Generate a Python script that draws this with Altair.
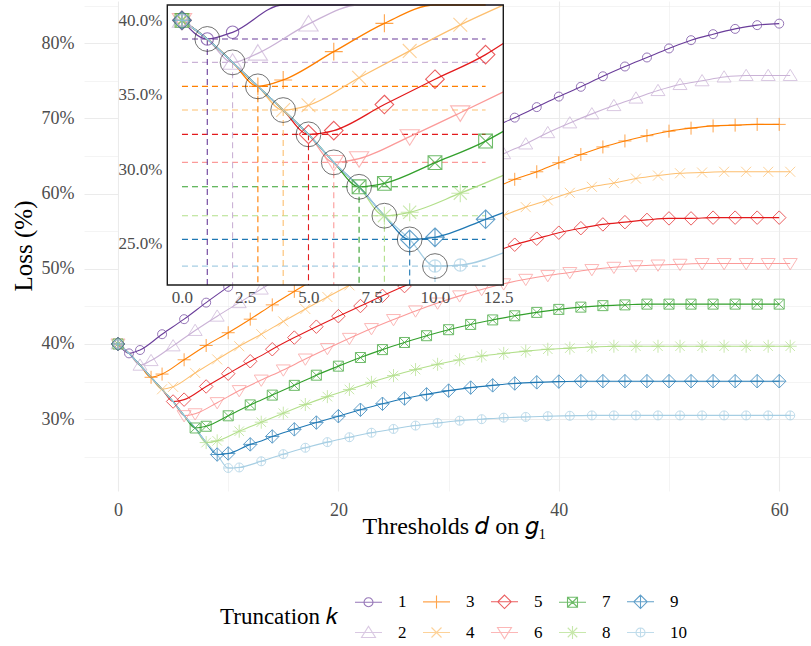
import altair as alt
import pandas as pd

# ---------------- data ----------------
SERIES = list(range(1, 11))
LEGEND_ORDER = [1, 3, 5, 7, 9, 2, 4, 6, 8, 10]
COLORS = ["#6A3D9A", "#CAB2D6", "#FF7F00", "#FDBF6F", "#E31A1C",
          "#FB9A99", "#33A02C", "#B2DF8A", "#1F78B4", "#A6CEE3"]
START_LOSS = 40.0
MIN_LOSS = [38.75, 37.18, 35.57, 33.98, 32.35, 30.47, 28.83, 26.89, 25.30, 23.51]

# loss after the minimum: x = k+1, k+3, ... (up to 60 / 61)
LOSS_AFTER = {
    1: [39.2, 41.3, 43.3, 45.5, 47.6, 49.65, 51.65, 53.6, 55.5, 57.35, 59.15, 60.9, 62.6, 64.25, 65.85,
        67.35, 68.8, 70.1, 71.5, 72.9, 74.2, 75.6, 76.9, 78.1, 79.3, 80.4, 81.2, 81.9, 82.4, 82.6],
    2: [37.79, 39.75, 41.8, 43.7, 45.5, 47.3, 49.1, 50.85, 52.6, 54.3, 55.95, 57.6, 59.2, 60.75, 62.3,
        63.8, 65.3, 66.6, 68.1, 69.4, 70.6, 71.7, 72.7, 73.7, 74.5, 75.0, 75.5, 75.7, 75.7, 75.7],
    3: [36.0, 37.9, 39.8, 41.5, 43.3, 45.2, 47.0, 48.75, 50.45, 52.05, 53.6, 55.1, 56.55, 57.95, 59.3,
        60.6, 61.9, 62.9, 64.1, 65.2, 66.2, 67.0, 67.7, 68.3, 68.7, 69.0, 69.1, 69.2, 69.2],
    4: [34.3, 36.15, 37.95, 39.7, 41.3, 43.0, 44.65, 46.25, 47.8, 49.3, 50.7, 52.1, 53.4, 54.7, 55.9,
        57.1, 58.2, 59.1, 60.1, 60.9, 61.4, 62.0, 62.4, 62.7, 62.8, 62.9, 62.9, 62.9, 62.9],
    5: [32.6, 34.35, 36.05, 37.7, 39.3, 40.85, 42.3, 43.7, 45.05, 46.4, 47.7, 48.9, 50.05, 51.15,
        52.2, 53.2, 54.0, 54.8, 55.4, 55.9, 56.2, 56.5, 56.7, 56.7, 56.8, 56.8, 56.8, 56.8],
    6: [30.72, 32.2, 33.8, 35.2, 36.55, 38.0, 39.4, 40.75, 42.05, 43.25, 44.4, 45.45, 46.4, 47.25,
        48.0, 48.6, 49.1, 49.5, 49.9, 50.2, 50.4, 50.5, 50.6, 50.7, 50.7, 50.7, 50.7, 50.7],
    7: [29.06, 30.45, 31.9, 33.2, 34.5, 35.85, 37.05, 38.2, 39.25, 40.2, 41.1, 41.9, 42.6, 43.2,
        43.75, 44.2, 44.6, 44.9, 45.1, 45.2, 45.3, 45.3, 45.3, 45.3, 45.3, 45.3, 45.3],
    8: [27.12, 28.4, 29.6, 30.8, 31.95, 33.0, 33.95, 34.9, 35.8, 36.6, 37.3, 37.9, 38.4, 38.75,
        39.05, 39.3, 39.45, 39.6, 39.7, 39.7, 39.7, 39.7, 39.7, 39.7, 39.7, 39.7, 39.7],
    9: [25.44, 26.65, 27.7, 28.65, 29.55, 30.4, 31.25, 32.05, 32.75, 33.3, 33.8, 34.2, 34.5, 34.75,
        34.9, 35.0, 35.05, 35.05, 35.05, 35.05, 35.05, 35.05, 35.05, 35.05, 35.05, 35.05],
    10: [23.58, 24.4, 25.35, 26.2, 26.95, 27.6, 28.2, 28.7, 29.15, 29.5, 29.8, 30.0, 30.2, 30.3,
         30.4, 30.45, 30.5, 30.5, 30.5, 30.5, 30.5, 30.5, 30.5, 30.5, 30.5, 30.5],
}
# line value (no marker) read at x = 13, where the curve leaves the inset, for odd k
LINE_AT_13 = {5: 38.45, 7: 32.55, 9: 27.1}

INSET_X_TICKS = [0, 2.5, 5, 7.5, 10, 12.5]
INSET_Y_TICKS = [25, 30, 35, 40]
MAIN_X_TICKS = [0, 10, 20, 30, 40, 50, 60]
MAIN_Y_TICKS = [25, 30, 35, 40, 45, 50, 55, 60, 65, 70, 75, 80, 85]

# ---------------- marker shapes (style) ----------------
SHAPES = {
    1: "M-0.9,0A0.9,0.9,0,1,1,0.9,0A0.9,0.9,0,1,1,-0.9,0Z",
    2: "M0,-1.25L1.4,1L-1.4,1Z",
    3: "M-1.3,0L1.3,0M0,-1.3L0,1.3",
    4: "M-1,-1L1,1M-1,1L1,-1",
    5: "M0,-1.35L1.35,0L0,1.35L-1.35,0Z",
    6: "M0,1.25L1.4,-1L-1.4,-1Z",
    7: "M-1,-1L1,-1L1,1L-1,1ZM-1,-1L1,1M-1,1L1,-1",
    8: "M-1.3,0L1.3,0M0,-1.3L0,1.3M-0.95,-0.95L0.95,0.95M-0.95,0.95L0.95,-0.95",
    9: "M0,-1.35L1.35,0L0,1.35L-1.35,0ZM-1.35,0L1.35,0M0,-1.35L0,1.35",
    10: "M-0.9,0A0.9,0.9,0,1,1,0.9,0A0.9,0.9,0,1,1,-0.9,0ZM-0.9,0L0.9,0M0,-0.9L0,0.9",
}
LEGEND_SHAPES = {k: "M-2.7,0L2.7,0" + p for k, p in SHAPES.items()}

# ---------------- tables ----------------
rows = []
for k in SERIES:
    rows.append(dict(k=k, x=0, loss=START_LOSS, mark=True))
    for j in range(1, k):
        rows.append(dict(k=k, x=j, loss=MIN_LOSS[j - 1], mark=False))
    rows.append(dict(k=k, x=k, loss=MIN_LOSS[k - 1], mark=True))
    xs = list(range(k + 1, 62, 2))
    vals = LOSS_AFTER[k]
    assert len(xs) == len(vals), (k, len(xs), len(vals))
    for xv, v in zip(xs, vals):
        rows.append(dict(k=k, x=xv, loss=v, mark=True))
    if k in LINE_AT_13:
        rows.append(dict(k=k, x=13, loss=LINE_AT_13[k], mark=False))
df = pd.DataFrame(rows)
df["path"] = df["k"].map(SHAPES)
df = df.sort_values(["k", "x"]).reset_index(drop=True)

guides = pd.DataFrame({"k": SERIES, "loss": MIN_LOSS})
guides["x0"] = 0.0
guides["x1"] = 12.0
guides["ybot"] = 21.5

legend_df = pd.DataFrame({"k": SERIES})
cover_df = pd.DataFrame({"cx0": [0.09], "cx1": [34.96], "cy0": [47.85], "cy1": [90.0]})
IN_X = [-0.58, 12.7]
IN_Y = [22.24, 41.03]
border_df = pd.DataFrame({"bx0": [IN_X[0]], "bx1": [IN_X[1]], "by0": [IN_Y[0]], "by1": [IN_Y[1]]})

# ---------------- styles ----------------
SERIF = "Liberation Serif"
W, H = 727, 490

legend = alt.Legend(
    orient="none", legendX=136, legendY=592, direction="horizontal", columns=5,
    titleOrient="left", titleAnchor="middle", titleBaseline="middle", titlePadding=22,
    labelOffset=21, columnPadding=13, rowPadding=12,
    symbolSize=100, symbolStrokeWidth=1.1,
    labelFont=SERIF, labelFontSize=17, labelColor="black",
    titleFont=SERIF, titleFontSize=23, titleFontWeight="normal", titleColor="black",
)
color_enc = alt.Color(
    "k:N",
    scale=alt.Scale(domain=LEGEND_ORDER, range=[COLORS[k - 1] for k in LEGEND_ORDER]),
    legend=legend, title="Truncation 𝑘",
)

main_x_axis = alt.Axis(
    values=MAIN_X_TICKS, labelExpr="datum.value % 20 === 0 ? datum.label : ''",
    grid=True, gridColor="#EBEBEB",
    gridWidth={"condition": {"test": "datum.value % 20 === 0", "value": 1.1}, "value": 0.55},
    ticks=False, domain=False, labelFlush=False, labelOverlap=False,
    labelFont=SERIF, labelFontSize=18, labelColor="#4D4D4D", labelPadding=10.5,
    titleFont=SERIF, titleFontSize=24, titleFontWeight="normal", titleColor="black",
    titleX=370, titleY=42.7, titleBaseline="alphabetic",
)
main_y_axis = alt.Axis(
    values=MAIN_Y_TICKS, labelExpr="datum.value % 10 === 0 ? datum.value + '%' : ''",
    grid=True, gridColor="#EBEBEB",
    gridWidth={"condition": {"test": "datum.value % 10 === 0", "value": 1.1}, "value": 0.55},
    ticks=False, domain=False, labelFlush=False, labelOverlap=False,
    labelFont=SERIF, labelFontSize=18, labelColor="#4D4D4D", labelPadding=10,
    titleFont=SERIF, titleFontSize=25, titleFontWeight="normal", titleColor="black",
    titleX=-53, titleY=244.5, titleAngle=270, titleAlign="center", titleBaseline="alphabetic",
)
main_xs = alt.Scale(domain=[-3.085, 62.885], nice=False, zero=False)
main_ys = alt.Scale(domain=[20.45, 85.61], nice=False, zero=False)


def mx(field):
    return alt.X(field, scale=main_xs, axis=main_x_axis, title="Thresholds 𝑑 on 𝑔₁")


def my(field):
    return alt.Y(field, scale=main_ys, axis=main_y_axis, title="Loss (%)")


inset_x_axis = alt.Axis(
    values=INSET_X_TICKS, labelExpr="format(datum.value, '.1f')", orient="bottom", offset=-206,
    grid=False, ticks=False, domain=False, labelFlush=False, labelOverlap=False,
    labelFont=SERIF, labelFontSize=17, labelColor="#4D4D4D", labelPadding=4.5, zindex=2,
)
inset_y_axis = alt.Axis(
    values=INSET_Y_TICKS, labelExpr="format(datum.value, '.1f') + '%'", orient="left", offset=-83.3,
    grid=False, ticks=False, domain=False, labelFlush=False, labelOverlap=False,
    labelFont=SERIF, labelFontSize=17, labelColor="#4D4D4D", labelPadding=5.5, zindex=2,
)
inset_xs = alt.Scale(domain=IN_X, range=[83.3, 419.3], nice=False, zero=False, clamp=True)
inset_ys = alt.Scale(domain=IN_Y, range=[284, 4], nice=False, zero=False, clamp=True)


def ix(field):
    return alt.X(field, scale=inset_xs, axis=inset_x_axis, title="")


def iy(field):
    return alt.Y(field, scale=inset_ys, axis=inset_y_axis, title="")


# ---------------- main panel ----------------
base = alt.Chart(df)
main_lines = base.mark_line(strokeWidth=1.1, interpolate="monotone", clip=True).encode(
    x=mx("x:Q"), y=my("loss:Q"), color=color_enc)
main_points = base.mark_point(filled=False, size=100, strokeWidth=1.0, clip=True).transform_filter(
    "datum.mark").encode(
    x=mx("x:Q"), y=my("loss:Q"), color=color_enc, shape=alt.Shape("path:N", scale=None))
legend_pts = alt.Chart(legend_df).mark_point(filled=False, size=100, clip=True).encode(
    x=alt.value(-500), y=alt.value(-500), color=color_enc,
    shape=alt.Shape("k:N", scale=alt.Scale(domain=LEGEND_ORDER,
                                           range=[LEGEND_SHAPES[k] for k in LEGEND_ORDER]),
                    legend=legend, title="Truncation 𝑘"))
cover = alt.Chart(cover_df).mark_rect(color="white", clip=True).encode(
    x=mx("cx0:Q"), x2="cx1:Q", y=my("cy0:Q"), y2="cy1:Q")

main_layer = alt.layer(main_lines, main_points, legend_pts, cover)

# ---------------- inset ----------------
gbase = alt.Chart(guides)
h_dash = gbase.mark_rule(strokeDash=[6, 4], strokeWidth=1.1).encode(
    x=ix("x0:Q"), x2="x1:Q", y=iy("loss:Q"), color=color_enc)
v_dash = gbase.mark_rule(strokeDash=[6, 4], strokeWidth=1.1).encode(
    x=ix("k:Q"), y=iy("loss:Q"), y2="ybot:Q", color=color_enc)
in_lines = base.mark_line(strokeWidth=1.3, interpolate="monotone").transform_filter(
    "datum.x <= 13").encode(
    x=ix("x:Q"), y=iy("loss:Q"), color=color_enc)
in_points = base.mark_point(filled=False, size=190, strokeWidth=1.1).transform_filter(
    f"datum.mark && datum.x <= {IN_X[1]} && datum.loss <= {IN_Y[1]}").encode(
    x=ix("x:Q"), y=iy("loss:Q"), color=color_enc, shape=alt.Shape("path:N", scale=None))
rings = gbase.mark_point(shape="circle", filled=False, size=616, strokeWidth=0.9,
                         color="#222222").encode(x=ix("k:Q"), y=iy("loss:Q"))
border = alt.Chart(border_df).mark_rect(filled=False, stroke="#1A1A1A", strokeWidth=1.4).encode(
    x=ix("bx0:Q"), x2="bx1:Q", y=iy("by0:Q"), y2="by1:Q")

inset_layer = alt.layer(h_dash, v_dash, in_lines, in_points, rings, border)

chart = alt.layer(main_layer, inset_layer).resolve_scale(
    x="independent", y="independent"
).properties(
    width=W, height=H,
    autosize=alt.AutoSizeParams(type="none"),
    padding={"left": 84, "top": 1, "right": 0, "bottom": 155},
    background="white",
).configure_view(strokeWidth=0)

chart.save("out.html", embed_options={"renderer": "svg", "actions": False})
